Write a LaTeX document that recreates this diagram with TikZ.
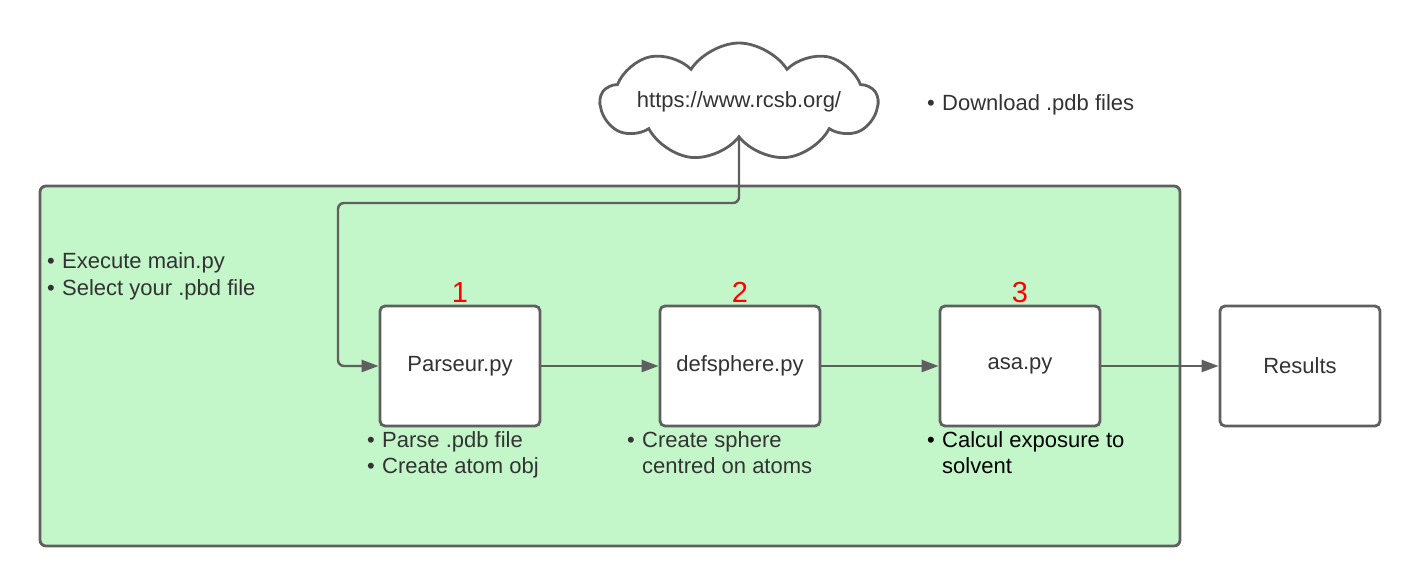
\documentclass[tikz,border=0pt]{standalone}
\usepackage{fontspec}
\setmainfont{Liberation Sans}
\usetikzlibrary{arrows.meta,shapes.symbols}
\definecolor{linegray}{HTML}{5F5F5F}
\definecolor{textgray}{HTML}{333333}
\definecolor{boxgreen}{HTML}{C3F6C8}
\definecolor{numred}{HTML}{FF0000}
\begin{document}
\begin{tikzpicture}[x=1pt,y=-1pt,
  basefont/.style={font=\fontsize{22}{26}\selectfont},
  stepbox/.style={draw=linegray, line width=2.8pt, fill=white, rounded corners=5pt,
    minimum width=160pt, minimum height=120pt, inner sep=0pt, text=textgray, basefont},
  panel/.style={draw=linegray, line width=2.8pt, fill=boxgreen, rounded corners=6pt,
    minimum width=1140pt, minimum height=360pt, inner sep=0pt},
  cloudshape/.style={cloud, draw=linegray, line width=2.8pt, fill=white, cloud puffs=9,
    cloud puff arc=115, cloud ignores aspect, minimum width=262pt, minimum height=118pt,
    inner sep=0pt, text=textgray, basefont},
  txt/.style={inner sep=0pt, anchor=base west, text=textgray, basefont},
  txtblack/.style={txt, text=black},
  num/.style={inner sep=0pt, anchor=base, text=numred, font=\fontsize{29}{32}\selectfont},
  conn/.style={draw=linegray, line width=2.4pt, rounded corners=6pt,
    -{Triangle[length=17pt,width=12pt]}},
]
\useasboundingbox (0,0) rectangle (1420,586);

\node[panel] (panel) at (610,366) {};

\node[cloudshape] (cloud) at (739,102) {https://www.rcsb.org/};
\node[txt] (dl) at (927,110) {\makebox[15pt][l]{•}Download .pdb files};

\node[txt] (ex1) at (47,268) {\makebox[15pt][l]{•}Execute main.py};
\node[txt] (ex2) at (47,295) {\makebox[15pt][l]{•}Select your .pbd file};

\node[stepbox] (parseur) at (460,366) {Parseur.py};
\node[stepbox] (defsphere) at (740,366) {defsphere.py};
\node[stepbox] (asa) at (1020,366) {asa.py};
\node[stepbox] (results) at (1300,366) {Results};

\node[num] (n1) at (460,302) {1};
\node[num] (n2) at (740,302) {2};
\node[num] (n3) at (1020,302) {3};

\node[txt] (p1) at (367,447.5) {\makebox[15pt][l]{•}Parse .pdb file};
\node[txt] (p2) at (367,473.5) {\makebox[15pt][l]{•}Create atom obj};
\node[txt] (d1) at (627,447.5) {\makebox[15pt][l]{•}Create sphere};
\node[txt] (d2) at (627,473.5) {\hspace*{15pt}centred on atoms};
\node[txtblack] (a1) at (927,447.5) {\makebox[15pt][l]{•}Calcul exposure to};
\node[txtblack] (a2) at (927,473.5) {\hspace*{15pt}solvent};

\coordinate (bend) at (338,203);
\draw[conn] (cloud.south) |- (bend) |- (parseur.west);
\draw[conn] (parseur.east) -- (defsphere.west);
\draw[conn] (defsphere.east) -- (asa.west);
\draw[conn] (asa.east) -- (results.west);
\end{tikzpicture}
\end{document}
